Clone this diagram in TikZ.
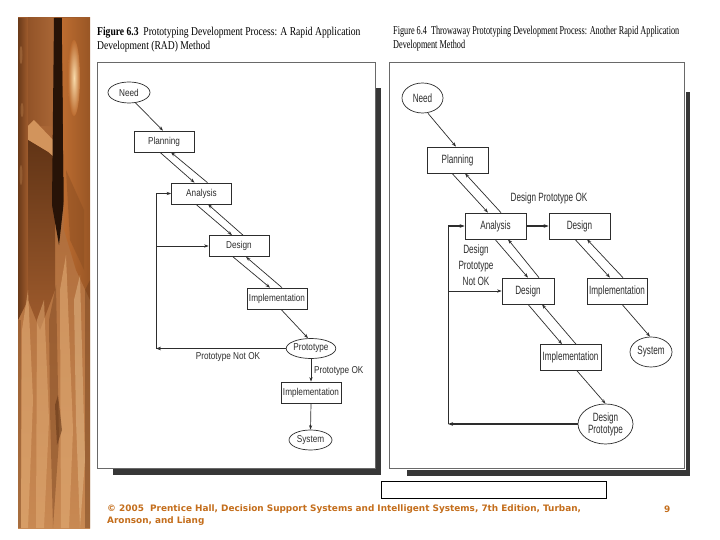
\documentclass[tikz,border=0pt]{standalone}
\usepackage{fontspec}
\setmainfont{Liberation Serif}
\newfontfamily\lfont[FakeStretch=0.82]{Liberation Sans}
\newfontfamily\rfont[FakeStretch=0.68]{Liberation Sans}
\newfontfamily\tfontL[FakeStretch=0.8]{Liberation Serif}
\newfontfamily\tfontR[FakeStretch=0.685]{Liberation Serif}
\newfontfamily\ffont{DejaVu Sans}
\usetikzlibrary{shapes.geometric,arrows.meta}
\definecolor{footc}{RGB}{196,110,28}
\definecolor{wdark}{RGB}{70,35,12}
\definecolor{wmid}{RGB}{160,92,45}
\definecolor{worange}{RGB}{188,108,48}
\definecolor{wlight}{RGB}{210,148,92}
\definecolor{wtan}{RGB}{228,175,120}
\definecolor{wbright}{RGB}{248,218,170}
\definecolor{shadowc}{RGB}{55,55,55}
\definecolor{framec}{RGB}{105,105,105}
\definecolor{inkc}{RGB}{45,45,45}
\tikzset{
  lbox/.style={draw=inkc, line width=0.7pt, fill=white, minimum width=60pt, minimum height=21pt, inner sep=0pt, font=\lfont\fontsize{10}{12}\selectfont, text=inkc},
  rbox/.style={draw=inkc, line width=0.7pt, fill=white, minimum width=61pt, minimum height=26pt, inner sep=0pt, font=\rfont\fontsize{12}{14}\selectfont, text=inkc},
  lell/.style={ellipse, draw=inkc, line width=0.7pt, fill=white, inner sep=0pt, font=\lfont\fontsize{10}{12}\selectfont, text=inkc},
  rell/.style={ellipse, draw=inkc, line width=0.7pt, fill=white, inner sep=0pt, font=\rfont\fontsize{12}{14}\selectfont, text=inkc, align=center},
  ltxt/.style={font=\lfont\fontsize{10}{12}\selectfont, text=inkc, inner sep=0pt},
  rtxt/.style={font=\rfont\fontsize{12}{16}\selectfont, text=inkc, inner sep=0pt, align=center},
  arr/.style={draw=inkc, line width=0.7pt, -{Stealth[length=4.5pt,width=3.2pt]}},
  thickarr/.style={draw=inkc, line width=1.2pt, -{Stealth[length=5pt,width=3.6pt]}},
  plain/.style={draw=inkc, line width=0.9pt},
  titleL/.style={font=\tfontL\fontsize{12}{14}\selectfont, inner sep=0pt, anchor=base west},
  titleR/.style={font=\tfontR\fontsize{12}{14}\selectfont, inner sep=0pt, anchor=base west},
  foot/.style={font=\ffont\bfseries\fontsize{8.9}{10}\selectfont, text=footc, inner sep=0pt, anchor=west}
}
\begin{document}
\begin{tikzpicture}[x=1pt,y=-1pt]
\useasboundingbox[fill=white] (0,0) rectangle (720,540);

% ---------- wood panel ----------
\begin{scope}
\clip (18,18) rectangle (90,528);
\shade[top color=wmid, bottom color=wlight!80!wmid] (18,18) rectangle (90,528);
% left strip (top)
\shade[left color=wdark!60!wmid, right color=wmid] (18,18) -- (28,18) -- (28,300) -- (18,320) -- cycle;
\fill[wlight, opacity=0.35] (21,55) ellipse (1.5 and 9);
\fill[wlight, opacity=0.3] (22,110) ellipse (1.5 and 7);
\fill[wlight, opacity=0.3] (21,175) ellipse (1.5 and 10);
% middle panel (top)
\shade[left color=wmid!85!wdark, right color=wmid!80!wlight] (28,18) rectangle (55,126);
\fill[wlight] (28,126) -- (34,120) -- (55,142) -- (55,158) -- (48,152) -- (28,140) -- cycle;
\shade[top color=wdark!70!wmid, bottom color=wmid] (28,140) -- (48,152) -- (55,158) -- (55,290) -- (40,330) -- (28,300) -- cycle;
% dark crease
\fill[wdark!55!black] (54,18) -- (62,18) -- (64,200) -- (59,245) -- (52,205) -- cycle;
% right panel
\shade[left color=worange, right color=wdark!30!worange] (62,18) -- (90,18) -- (90,300) -- (76,270) -- (64,230) -- cycle;
\shade[inner color=wbright, outer color=worange] (74,78) ellipse (6 and 38);
\fill[wdark!40!worange, opacity=0.5] (66,170) -- (84,210) -- (84,270) -- (70,240) -- cycle;
% lower region: light streaks rising into the upper part
\fill[wtan, opacity=0.55] (22,330) -- (28,290) -- (33,400) -- (28,528) -- (21,528) -- cycle;
\fill[wtan, opacity=0.5] (37,320) -- (44,300) -- (49,420) -- (44,528) -- (36,528) -- cycle;
\fill[wdark!45!wmid, opacity=0.45] (49,320) -- (56,285) -- (59,440) -- (53,528) -- (50,410) -- cycle;
\fill[wtan, opacity=0.55] (60,290) -- (66,255) -- (73,430) -- (69,528) -- (61,528) -- cycle;
\fill[wbright, opacity=0.35] (74,300) -- (80,275) -- (85,460) -- (80,528) -- (76,420) -- cycle;
\fill[wdark!55!wmid, opacity=0.45] (85,290) -- (90,280) -- (90,528) -- (85,528) -- cycle;
\fill[wdark!55!wmid, opacity=0.35] (18,320) rectangle (20.5,528);
\fill[wdark!70!wmid, opacity=0.55] (55,405) -- (58,395) -- (62,430) -- (57,445) -- cycle;
\end{scope}

% ---------- titles ----------
\node[titleL] (tl1) at (97,35.5) {\textbf{Figure 6.3}\ \ Prototyping Development Process: A Rapid Application};
\node[titleL] (tl2) at (97,49.5) {Development (RAD) Method};
\node[titleR] (tr1) at (393,35) {Figure 6.4\ \ Throwaway Prototyping Development Process: Another Rapid Application};
\node[titleR] (tr2) at (393,49) {Development Method};

% ---------- frames ----------
\fill[shadowc] (376,88) rectangle (381,475);
\fill[shadowc] (113,469) rectangle (381,475);
\draw[framec, line width=0.9pt, fill=white] (97,62) rectangle (375,468);
\fill[shadowc] (686,92) rectangle (690,476);
\fill[shadowc] (407,470) rectangle (690,476);
\draw[framec, line width=0.9pt, fill=white] (389,62) rectangle (684,468);

% ---------- left diagram ----------
\node[lell, minimum width=42pt, minimum height=21pt] (Lneed) at (129,92.5) {Need};
\node[lbox] (Lplan) at (164,141.5) {Planning};
\node[lbox] (Lana) at (201.5,193.5) {Analysis};
\node[lbox] (Ldes) at (239,246) {Design};
\node[lbox] (Limp) at (277,298.5) {Implementation};
\node[lell, minimum width=42pt, minimum height=20pt] (Lproto) at (311,348.5) {Prototype};
\node[lbox] (Limp2) at (311,392.5) {Implementation};
\node[lell, minimum width=43pt, minimum height=20pt] (Lsys) at (310.5,440) {System};
\node[ltxt] (Lnotok) at (228,357.5) {Prototype Not OK};
\node[ltxt, anchor=west] (Lok) at (314,371) {Prototype OK};
\coordinate (Lfb) at (156,348.5);

\draw[arr] ([xshift=6pt,yshift=1pt]Lneed.south) -- ([xshift=-1pt]Lplan.north);
\draw[arr] ([xshift=-4pt]Lplan.south) -- ([xshift=-7pt]Lana.north);
\draw[arr] ([xshift=6pt]Lana.north) -- ([xshift=7pt]Lplan.south);
\draw[arr] ([xshift=-5.5pt]Lana.south) -- ([xshift=-7pt]Ldes.north);
\draw[arr] ([xshift=4pt]Ldes.north) -- ([xshift=6.5pt]Lana.south);
\draw[arr] ([xshift=-6pt]Ldes.south) -- ([xshift=-7pt]Limp.north);
\draw[arr] ([xshift=5pt]Limp.north) -- ([xshift=7pt]Ldes.south);
\draw[arr] ([xshift=4pt]Limp.south) -- ([xshift=-3pt]Lproto.north);
\draw[thickarr] (Lproto.west) -- (Lfb);
\draw[plain] (Lfb) -- (Lfb |- Lana.west);
\draw[arr] (Lfb |- Lana.west) -- (Lana.west);
\draw[arr] (Lfb |- Ldes.west) -- (Ldes.west);
\draw[arr] (Lproto.south) -- (Limp2.north);
\draw[arr] (Limp2.south) -- (Lsys.north);

% ---------- right diagram ----------
\node[rell, minimum width=41pt, minimum height=30pt] (Rneed) at (422.5,98) {Need};
\node[rbox] (Rplan) at (457.5,160) {Planning};
\node[rbox] (Rana) at (495.5,226) {Analysis};
\node[rbox] (Rdes) at (579.5,226) {Design};
\node[rbox, minimum width=52pt] (Rdes2) at (528,291) {Design};
\node[rbox, minimum width=60pt] (Rimp) at (617,291) {Implementation};
\node[rell, minimum width=42pt, minimum height=30pt] (Rsys) at (651,352) {System};
\node[rbox] (Rimp2) at (570.5,357.5) {Implementation};
\node[rell, minimum width=55pt, minimum height=40pt] (Rdp) at (605.5,424) {Design\\[-2pt]Prototype};
\node[rtxt] (Rok) at (549,198) {Design Prototype OK};
\node[rtxt] (Rnotok) at (476,265.5) {Design\\Prototype\\Not OK};
\coordinate (Rfb) at (448,424);

\draw[arr] ([xshift=5.5pt]Rneed.south) -- ([xshift=-1.5pt]Rplan.north);
\draw[arr] ([xshift=-5.5pt]Rplan.south) -- ([xshift=-7.5pt]Rana.north);
\draw[arr] ([xshift=5.5pt]Rana.north) -- ([xshift=7.5pt]Rplan.south);
\draw[thickarr] (Rana.east) -- (Rdes.west);
\draw[arr] ([xshift=-0.5pt]Rana.south) -- ([xshift=0pt]Rdes2.north);
\draw[arr] ([xshift=11pt]Rdes2.north) -- ([xshift=12.5pt]Rana.south);
\draw[arr] ([xshift=-4.5pt]Rdes.south) -- ([xshift=-7pt]Rimp.north);
\draw[arr] ([xshift=6pt]Rimp.north) -- ([xshift=7.5pt]Rdes.south);
\draw[arr] ([xshift=0pt]Rdes2.south) -- ([xshift=-8.5pt]Rimp2.north);
\draw[arr] ([xshift=5.5pt]Rimp2.north) -- ([xshift=14pt]Rdes2.south);
\draw[arr] ([xshift=5pt]Rimp.south) -- ([xshift=-1pt]Rsys.north);
\draw[arr] ([xshift=6.5pt]Rimp2.south) -- (Rdp.north);
\draw[thickarr] (Rdp.west) -- (Rfb);
\draw[plain] (Rfb) -- (Rfb |- Rana.west);
\draw[thickarr] (Rfb |- Rana.west) -- (Rana.west);
\draw[arr] (Rfb |- Rdes2.west) -- (Rdes2.west);

% ---------- footer ----------
\draw[black, line width=0.8pt, fill=white] (381,481) rectangle (606,498);
\node[foot] (f1) at (107,509.5) {© 2005\ \ Prentice Hall, Decision Support Systems and Intelligent Systems, 7th Edition, Turban,};
\node[foot] (f2) at (107,521) {Aronson, and Liang};
\node[foot] (fn) at (664,509.5) {9};
\end{tikzpicture}
\end{document}
